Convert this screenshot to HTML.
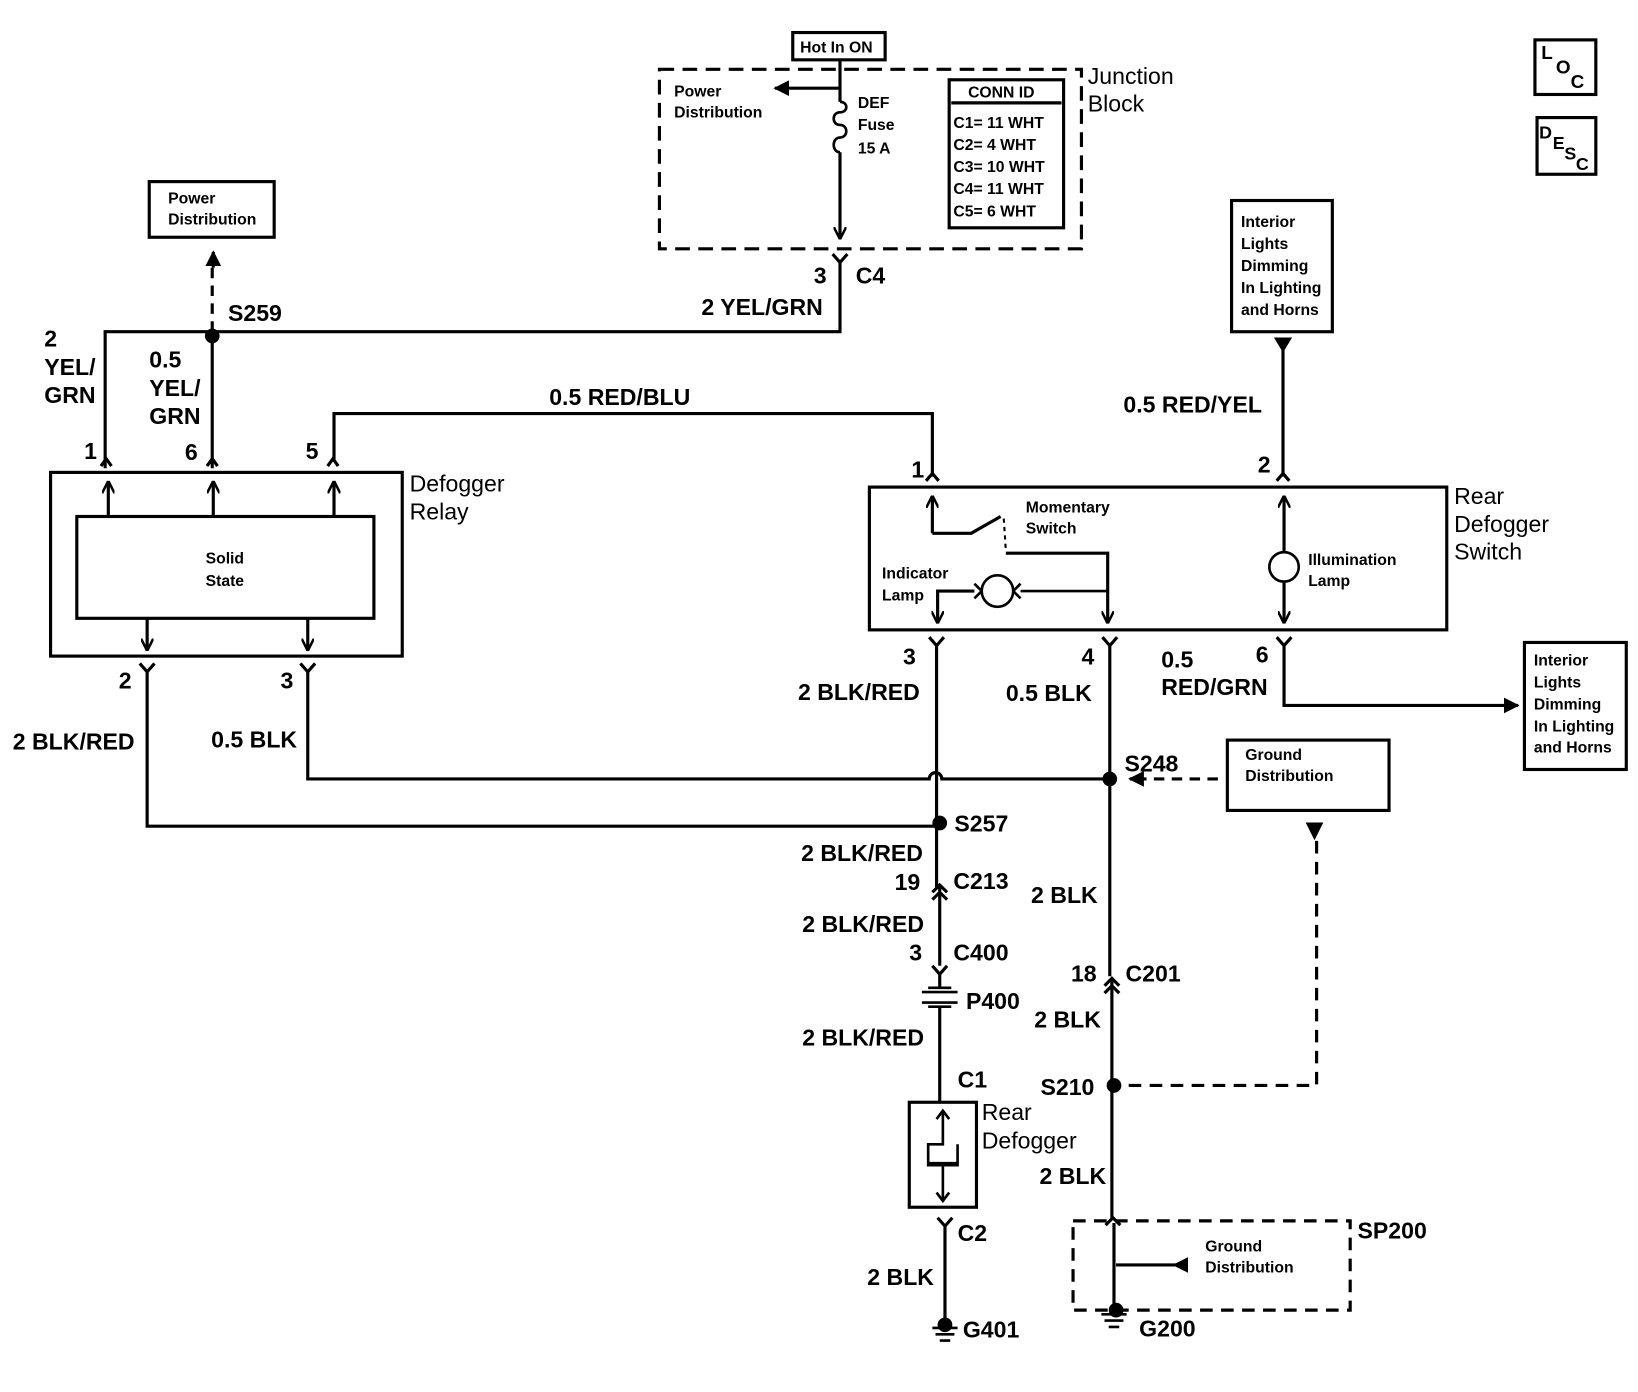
<!DOCTYPE html>
<html><head><meta charset="utf-8"><style>
html,body{margin:0;padding:0;background:#fff;}
svg{display:block;}
text{font-family:"Liberation Sans",sans-serif;font-weight:bold;fill:#000;}
.b{font-size:22px;}
.s{font-size:15px;}
</style></head><body>
<svg width="1638" height="1392" viewBox="0 0 1560 1326" xmlns="http://www.w3.org/2000/svg">
<defs>
<marker id="ah" viewBox="0 0 10 10" refX="9" refY="5" markerWidth="5" markerHeight="5" orient="auto"><path d="M0,0 L10,5 L0,10 z" fill="#000"/></marker>
<marker id="ch" viewBox="0 0 10 10" refX="10" refY="5" markerWidth="4" markerHeight="4" orient="auto"><path d="M0,0 L10,5 L0,10" fill="none" stroke="#000" stroke-width="2"/></marker>
</defs>
<g fill="none" stroke="#000" stroke-width="3">
<rect x="1462" y="38" width="58" height="52"/>
<rect x="1464" y="112" width="56" height="54"/>
<rect x="755" y="31" width="88" height="26"/>
<rect x="628" y="66" width="402" height="171" stroke-dasharray="14,8"/>
<path d="M800,57 V97"/>
<path d="M800,145 V228" marker-end="url(#ch)"/>
<path d="M800,97 c8,0 8,10 0,10 c-8,0 -8,12 0,12 c8,0 8,12 0,12 c-8,0 -8,14 0,14" stroke-width="2.5"/>
<path d="M800,84 H738" marker-end="url(#ah)"/>
<rect x="904" y="76" width="109" height="141"/>
<path d="M906,98 H1011"/>
<path d="M793,242 L800,250 L807,242 M800,250 V316 H100 V446 M202,316 V446" />
<path d="M202,316 V250" stroke-dasharray="10,7"/>
<path d="M203,255 V240" marker-end="url(#ah)"/>
<rect x="142" y="173" width="119" height="53"/>
<path d="M96,444 L101,437 L106,444 M197,444 L202,437 L207,444 M312,444 L317,437 L322,444"/>
<path d="M318,440 V394 H888 V454 M882,458 L888,451 L894,458"/>
<rect x="48" y="450" width="335" height="175"/>
<rect x="73" y="492" width="283" height="97"/>
<path d="M103,492 V458" marker-end="url(#ch)"/>
<path d="M203,492 V458" marker-end="url(#ch)"/>
<path d="M318,492 V458" marker-end="url(#ch)"/>
<path d="M140,589 V620" marker-end="url(#ch)"/>
<path d="M293,589 V620" marker-end="url(#ch)"/>
<path d="M133,632 L140,640 L147,632 M286,632 L293,640 L300,632"/>
<path d="M140,640 V787 H892 M293,640 V742 H885 a6,6 0 0 1 12,0 H1057"/>
<rect x="828" y="464" width="550" height="136"/>
<path d="M888,508 V472" marker-end="url(#ch)"/>
<path d="M888,508 H925 L953,492"/>
<path d="M956,494 L958,525" stroke-dasharray="4,4" stroke-width="2"/>
<path d="M958,527 H1055 V594" marker-end="url(#ch)"/>
<circle cx="950" cy="563" r="15" stroke-width="2.5"/>
<path d="M935,563 L928,556 M935,563 L928,570 M965,563 L972,556 M965,563 L972,570 M972,563 H1055" stroke-width="2.5"/>
<path d="M928,563 H893 V594" marker-end="url(#ch)"/>
<circle cx="1223" cy="540" r="14" stroke-width="2.5"/>
<path d="M1223,526 V472" marker-end="url(#ch)"/>
<path d="M1223,554 V594" marker-end="url(#ch)"/>
<path d="M1216,458 L1222,451 L1228,458 M1222,454 V330"/>
<path d="M1216,323 L1222,333 L1228,323 z" fill="#000"/>
<rect x="1173" y="191" width="96" height="125"/>
<path d="M885,607 L892,615 L899,607 M1050,607 L1057,615 L1064,607 M1216,607 L1223,615 L1230,607"/>
<path d="M892,615 V845 M1057,615 V930 M1223,615 V672 H1443" />
<path d="M1440,672 H1446" marker-end="url(#ah)"/>
<rect x="1452" y="612" width="97" height="121"/>
<path d="M1160,742 H1080" stroke-dasharray="10,7"/>
<path d="M1090,742 H1076" marker-end="url(#ah)"/>
<rect x="1169" y="705" width="154" height="67"/>
<path d="M888,857 L895,850 L902,857 M888,850 L895,843 L902,850 M895,843 V920 M888,920 L895,928 L902,920 M895,928 V942"/>
<path d="M878,945 H912 M878,955 H912 M884,941 h22 M884,959 h22" stroke-width="2.5"/>
<path d="M895,959 V1050"/>
<rect x="866" y="1050" width="64" height="100"/>
<path d="M898,1060 V1090 H884 V1110 H912 V1090 M912,1108 H884 M898,1110 V1142" stroke-width="2.5"/>
<path d="M892,1066 L898,1058 L904,1066 M892,1136 L898,1144 L904,1136" stroke-width="2.5"/>
<path d="M893,1160 L900,1168 L907,1160 M900,1168 V1262"/>
<path d="M888,1265 h24 M891,1271 h18 M895,1277 h10" stroke-width="2.5"/>
<path d="M1052,946 L1059,939 L1066,946 M1052,939 L1059,932 L1066,939 M1059,932 V1160 M1053,1167 L1060,1160 L1067,1167"/>
<path d="M1075,1034 H1254 V800" stroke-dasharray="12,8"/>
<path d="M1246,785 L1252,797 L1258,785 z" fill="#000"/>
<rect x="1022" y="1163" width="264" height="85" stroke-dasharray="12,8"/>
<path d="M1061,1165 V1245 M1130,1205 H1063"/>
<path d="M1130,1200 L1120,1205 L1130,1210 z" fill="#000"/>
<path d="M1049,1252 h24 M1052,1258 h18 M1056,1264 h10" stroke-width="2.5"/>
</g>
<g fill="#000">
<circle cx="202" cy="320" r="7"/>
<circle cx="1057" cy="742" r="7"/>
<circle cx="895" cy="784" r="7"/>
<circle cx="1061" cy="1034" r="7"/>
<circle cx="900" cy="1262" r="7"/>
<circle cx="1063" cy="1248" r="7"/>
</g>
<text x="1468" y="56" style="font-size:18px">L</text><text x="1482" y="70" style="font-size:18px">O</text><text x="1496" y="84" style="font-size:18px">C</text>
<text x="1466" y="132" style="font-size:17px">D</text><text x="1479" y="142" style="font-size:17px">E</text><text x="1490" y="152" style="font-size:17px">S</text><text x="1501" y="162" style="font-size:17px">C</text>
<text class="s" x="762" y="50">Hot In ON</text>
<text class="s" x="642" y="92">Power</text><text class="s" x="642" y="112">Distribution</text>
<text class="s" x="817" y="103">DEF</text><text class="s" x="817" y="124">Fuse</text><text class="s" x="817" y="146">15 A</text>
<text class="s" x="922" y="93">CONN ID</text>
<text class="s" x="908" y="122">C1= 11 WHT</text><text class="s" x="908" y="143">C2= 4 WHT</text><text class="s" x="908" y="164">C3= 10 WHT</text><text class="s" x="908" y="185">C4= 11 WHT</text><text class="s" x="908" y="206">C5= 6 WHT</text>
<text class="b" x="1036" y="80" style="font-weight:normal">Junction</text><text class="b" x="1036" y="106" style="font-weight:normal">Block</text>
<text class="b" x="775" y="270">3</text><text class="b" x="815" y="270">C4</text>
<text class="b" x="668" y="300">2 YEL/GRN</text>
<text class="s" x="160" y="194">Power</text><text class="s" x="160" y="214">Distribution</text>
<text class="b" x="217" y="306">S259</text>
<text class="b" x="42" y="330">2</text><text class="b" x="42" y="357">YEL/</text><text class="b" x="42" y="384">GRN</text>
<text class="b" x="142" y="350">0.5</text><text class="b" x="142" y="377">YEL/</text><text class="b" x="142" y="404">GRN</text>
<text class="b" x="80" y="437">1</text><text class="b" x="176" y="438">6</text><text class="b" x="291" y="437">5</text>
<text class="b" x="523" y="386">0.5 RED/BLU</text>
<text class="s" x="214" y="537" text-anchor="middle">Solid</text><text class="s" x="214" y="558" text-anchor="middle">State</text>
<text class="b" x="390" y="468" style="font-weight:normal">Defogger</text><text class="b" x="390" y="495" style="font-weight:normal">Relay</text>
<text class="b" x="113" y="656">2</text><text class="b" x="267" y="656">3</text>
<text class="b" x="12" y="714">2 BLK/RED</text><text class="b" x="201" y="712">0.5 BLK</text>
<text class="b" x="868" y="455">1</text><text class="b" x="1198" y="450">2</text>
<text class="b" x="1070" y="393">0.5 RED/YEL</text>
<text class="s" x="1182" y="216">Interior</text><text class="s" x="1182" y="237">Lights</text><text class="s" x="1182" y="258">Dimming</text><text class="s" x="1182" y="279">In Lighting</text><text class="s" x="1182" y="300">and Horns</text>
<text class="b" x="1385" y="480" style="font-weight:normal">Rear</text><text class="b" x="1385" y="507" style="font-weight:normal">Defogger</text><text class="b" x="1385" y="533" style="font-weight:normal">Switch</text>
<text class="s" x="977" y="488">Momentary</text><text class="s" x="977" y="508">Switch</text>
<text class="s" x="840" y="551">Indicator</text><text class="s" x="840" y="572">Lamp</text>
<text class="s" x="1246" y="538">Illumination</text><text class="s" x="1246" y="558">Lamp</text>
<text class="b" x="860" y="633">3</text><text class="b" x="1030" y="633">4</text><text class="b" x="1196" y="631">6</text>
<text class="b" x="760" y="667">2 BLK/RED</text><text class="b" x="958" y="668">0.5 BLK</text>
<text class="b" x="1106" y="636">0.5</text><text class="b" x="1106" y="662">RED/GRN</text>
<text class="s" x="1461" y="634">Interior</text><text class="s" x="1461" y="655">Lights</text><text class="s" x="1461" y="676">Dimming</text><text class="s" x="1461" y="697">In Lighting</text><text class="s" x="1461" y="717">and Horns</text>
<text class="b" x="1071" y="735">S248</text>
<text class="s" x="1186" y="724">Ground</text><text class="s" x="1186" y="744">Distribution</text>
<text class="b" x="909" y="792">S257</text>
<text class="b" x="763" y="820">2 BLK/RED</text>
<text class="b" x="852" y="848">19</text><text class="b" x="908" y="847">C213</text>
<text class="b" x="982" y="860">2 BLK</text>
<text class="b" x="764" y="888">2 BLK/RED</text>
<text class="b" x="866" y="915">3</text><text class="b" x="908" y="915">C400</text>
<text class="b" x="1020" y="935">18</text><text class="b" x="1072" y="935">C201</text>
<text class="b" x="920" y="961">P400</text>
<text class="b" x="985" y="979">2 BLK</text>
<text class="b" x="764" y="996">2 BLK/RED</text>
<text class="b" x="912" y="1036">C1</text>
<text class="b" x="991" y="1043">S210</text>
<text class="b" x="935" y="1067" style="font-weight:normal">Rear</text><text class="b" x="935" y="1094" style="font-weight:normal">Defogger</text>
<text class="b" x="990" y="1128">2 BLK</text>
<text class="b" x="1293" y="1180">SP200</text>
<text class="s" x="1148" y="1192">Ground</text><text class="s" x="1148" y="1212">Distribution</text>
<text class="b" x="912" y="1182">C2</text>
<text class="b" x="826" y="1224">2 BLK</text>
<text class="b" x="917" y="1274">G401</text>
<text class="b" x="1085" y="1273">G200</text>
</svg>
</body></html>
